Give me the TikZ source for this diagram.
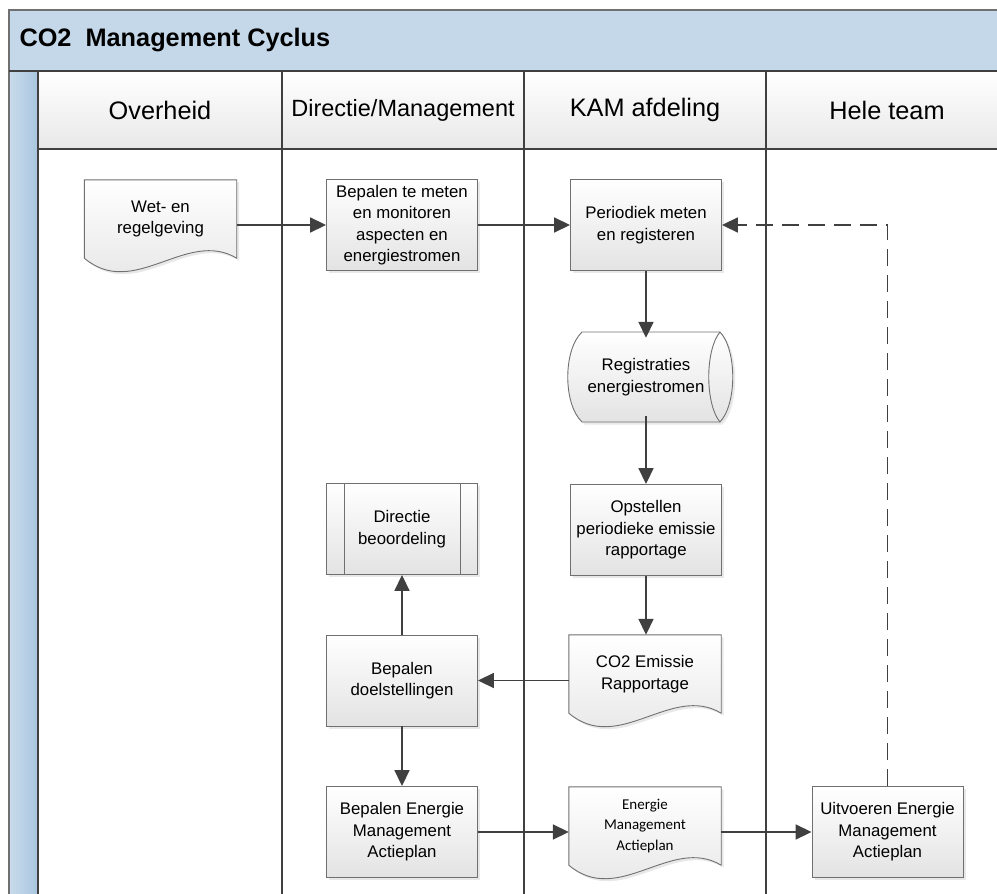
\documentclass[tikz,border=0pt]{standalone}
\usepackage{fontspec}
\setmainfont{Liberation Sans}
\newfontfamily\calibri{Carlito}
\usetikzlibrary{arrows.meta,shadows}
\definecolor{titelblauw}{RGB}{197,216,233}
\definecolor{strooklicht}{RGB}{202,219,235}
\definecolor{strookdonker}{RGB}{168,198,224}
\definecolor{lijn}{RGB}{64,64,64}
\definecolor{rand}{RGB}{112,112,112}
\pgfdeclarelayer{vormen}
\pgfsetlayers{vormen,main}

\begin{document}
\begin{tikzpicture}[x=1pt,y=-1pt,
  lane/.style={draw=lijn,line width=1.4pt},
  kop/.style={font=\fontsize{25.3}{30}\selectfont},
  vulling/.style={draw=rand,line width=0.9pt,top color=white,bottom color=black!11,
    drop shadow={shadow xshift=2.5pt,shadow yshift=-2.5pt,opacity=0.18}},
  proc/.style={vulling,minimum width=151pt,minimum height=91pt,inner sep=0pt,
    align=center,font=\fontsize{16.8}{21.5}\selectfont},
  doc/.style={minimum width=152pt,minimum height=78pt,inner sep=0pt,
    align=center,font=\fontsize{16.8}{21.5}\selectfont},
  flow/.style={draw=lijn,line width=1.8pt,-{Triangle[length=16pt,width=15pt]}},
  ]
\useasboundingbox (0,0) rectangle (997,894);
% titelbalk, strook en kopregel
\fill[titelblauw] (9,10) rectangle (997,71);
\shade[left color=strooklicht,right color=strookdonker] (9,71) rectangle (38,894);
\shade[top color=white,bottom color=black!9] (38,71) rectangle (997,149);
\node[anchor=west,font=\bfseries\fontsize{25.3}{30}\selectfont] (titel) at (16,40) {CO2\ \ Management Cyclus};
\draw[lane,draw=rand] (9,894) -- (9,10) -- (997,10);
\draw[lane] (9,71) -- (997,71) (38,71) -- (38,894) (38,149) -- (997,149)
  (282,71) -- (282,894) (524,71) -- (524,894) (766,71) -- (766,894);
\node[kop] (overheid) at (160,110) {Overheid};
\node[kop,font=\fontsize{23.5}{28}\selectfont] (directie) at (403,110) {Directie/Management};
\node[kop] (kam) at (645,110) {KAM afdeling};
\node[kop] (team) at (887,110) {Hele team};
% stappen
\node[doc] (wet) at (160.5,219) {Wet- en\\regelgeving};
\node[proc] (bepmeten) at (402,225) {Bepalen te meten\\en monitoren\\aspecten en\\energiestromen};
\node[proc] (periodiek) at (646,225) {Periodiek meten\\en registeren};
\node[doc,minimum width=140pt] (registraties) at (646,377) {Registraties\\energiestromen};
\node[proc] (opstellen) at (646,530) {Opstellen\\periodieke emissie\\rapportage};
\node[proc] (beoordeling) at (402,529) {Directie\\beoordeling};
\draw[draw=rand,line width=0.9pt] ([xshift=18pt]beoordeling.north west) -- ([xshift=18pt]beoordeling.south west)
  ([xshift=-18pt]beoordeling.north east) -- ([xshift=-18pt]beoordeling.south east);
\node[doc] (emissie) at (645,674) {CO2 Emissie\\Rapportage};
\node[proc] (doelen) at (402,680.5) {Bepalen\\doelstellingen};
\node[proc] (bepactie) at (402,832) {Bepalen Energie\\Management\\Actieplan};
\node[doc,font=\calibri\fontsize{15}{20.5}\selectfont] (actieplan) at (645,826) {Energie\\Management\\Actieplan};
\node[proc] (uitvoeren) at (887.5,832) {Uitvoeren Energie\\Management\\Actieplan};
% vormen achter de teksten
\begin{pgfonlayer}{vormen}
\foreach \d in {wet,emissie,actieplan}
  \path[vulling] (\d.south east) -- (\d.north east) -- (\d.north west) -- (\d.south west)
    .. controls +(50,42) and +(-50,-30) .. (\d.south east) -- cycle;
\begin{scope}[shift={(registraties.center)}]
\path[vulling] (-64,-45) -- (74,-45) .. controls (91,-27) and (91,27) .. (74,45)
  -- (-64,45) .. controls (-83,27) and (-83,-27) .. (-64,-45) -- cycle;
\end{scope}
\end{pgfonlayer}
\begin{scope}[shift={(registraties.center)}]
\draw[draw=rand,line width=0.9pt] (74,-45) .. controls (59,-27) and (59,27) .. (74,45);
\end{scope}
% verbindingen
\draw[flow] (wet.east |- bepmeten.west) -- (bepmeten.west);
\draw[flow] (bepmeten) -- (periodiek);
\draw[flow] (periodiek.south) -- (periodiek.south |- registraties.north);
\draw[flow] (periodiek.south |- registraties.south) -- (opstellen.north);
\draw[flow] (opstellen.south) -- (opstellen.south |- emissie.north);
\draw[flow] (emissie.west |- doelen.east) -- (doelen.east);
\draw[flow] (doelen) -- (beoordeling);
\draw[flow] (doelen) -- (bepactie);
\draw[flow] (bepactie.east) -- (bepactie.east -| actieplan.west);
\draw[flow] (actieplan.east |- uitvoeren.west) -- (uitvoeren.west);
\draw[flow,dash pattern=on 17pt off 9pt] (uitvoeren.north) -- (uitvoeren.north |- periodiek.east) -- (periodiek.east);
\end{tikzpicture}
\end{document}
